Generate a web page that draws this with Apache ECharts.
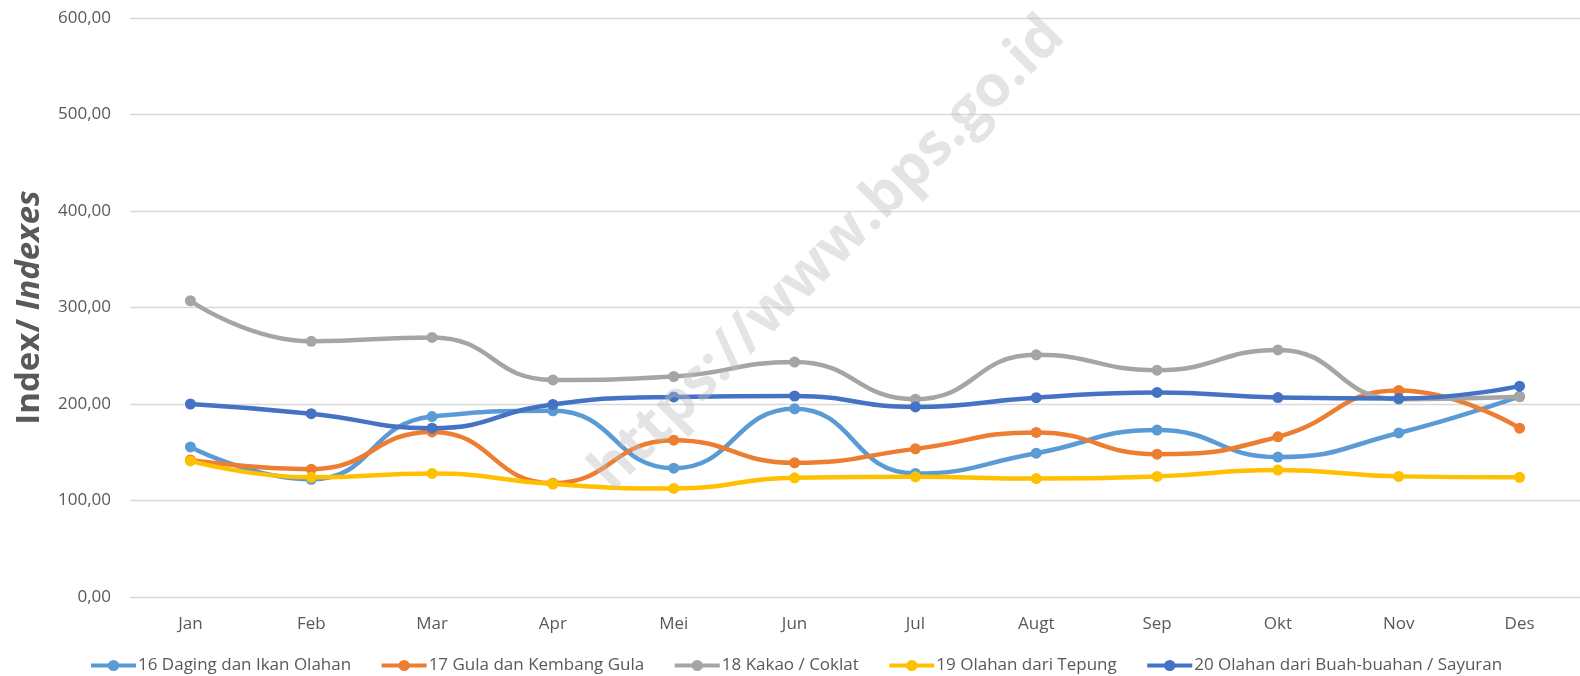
<!DOCTYPE html>
<html>
<head>
<meta charset="utf-8">
<script src="https://cdn.jsdelivr.net/npm/echarts@6/dist/echarts.min.js"></script>
<style>html,body{margin:0;padding:0;background:#fff}#c{width:1580px;height:676px}</style>
</head>
<body>
<div id="c"></div>
<script>
const categories = ['Jan','Feb','Mar','Apr','Mei','Jun','Jul','Augt','Sep','Okt','Nov','Des'];
const seriesNames = ['16 Daging dan Ikan Olahan','17 Gula dan Kembang Gula','18 Kakao / Coklat','19 Olahan dari Tepung','20 Olahan dari Buah-buahan / Sayuran'];
const daging = [155.5, 122, 187, 193, 133.5, 195, 128, 149, 173, 145, 170, 208];
const gula   = [142, 132.5, 171, 118, 162.5, 139, 153.5, 170.5, 148, 166, 214, 175];
const kakao  = [307, 265, 269, 225, 228.5, 243.5, 205, 251, 235, 256, 205, 207.5];
const tepung = [141, 124, 128, 117, 112.5, 123.5, 124.5, 122.7, 125, 131.5, 125, 124];
const buah   = [200, 190, 175, 199.5, 207.3, 208.3, 197, 206.6, 212, 206.7, 205.6, 218.5];
const yTicks = {min: 0, max: 600, interval: 100};
const colors = ['#5B9BD5','#ED7D31','#A5A5A5','#FFC000','#4472C4'];
const allData = [daging, gula, kakao, tepung, buah];

const FONT = '"Open Sans", sans-serif';
const chart = echarts.init(document.getElementById('c'), null, {renderer: 'canvas'});
chart.setOption({
  animation: false,
  color: colors,
  grid: {left: 130, top: 18, width: 1453, bottom: 79, containLabel: false},
  xAxis: {
    type: 'category',
    data: categories,
    boundaryGap: true,
    axisLine: {show: false},
    axisTick: {show: false},
    axisLabel: {color: '#595959', fontSize: 17, fontFamily: FONT, margin: 19}
  },
  yAxis: {
    type: 'value',
    min: yTicks.min, max: yTicks.max, interval: yTicks.interval,
    axisLine: {show: false},
    axisTick: {show: false},
    splitLine: {lineStyle: {color: '#d9d9d9', width: 1.3}},
    axisLabel: {
      color: '#595959', fontSize: 17, fontFamily: FONT, margin: 19,
      formatter: v => v.toFixed(2).replace('.', ',')
    },
    name: '{a|Index/ }{b|Indexes}',
    nameLocation: 'middle',
    nameGap: 84,
    nameRotate: 90,
    nameTextStyle: {
      rich: {
        a: {fontSize: 33, fontWeight: 'bold', color: '#595959', fontFamily: FONT},
        b: {fontSize: 33, fontWeight: 'bold', fontStyle: 'italic', color: '#595959', fontFamily: FONT}
      }
    }
  },
  legend: {
    top: 652,
    left: 84,
    itemWidth: 45,
    itemHeight: 14,
    itemGap: 28.5,
    lineStyle: {width: 4},
    textStyle: {color: '#595959', fontSize: 17, fontFamily: FONT, padding: [0,0,0,-3]},
    data: seriesNames
  },
  graphic: [{
    type: 'text',
    x: 828, y: 254,
    rotation: Math.PI / 4,
    z: 100,
    silent: true,
    style: {
      text: 'https://www.bps.go.id',
      fill: 'rgba(190,190,190,0.42)',
      font: 'bold 58px "Open Sans", sans-serif',
      textAlign: 'center',
      textVerticalAlign: 'middle'
    }
  }],
  series: seriesNames.map((n, i) => ({
    name: n,
    type: 'line',
    data: allData[i],
    smooth: 0.5,
    symbol: 'circle',
    symbolSize: 11,
    lineStyle: {width: 4.5, color: colors[i]},
    itemStyle: {color: colors[i]},
    z: 2 + i
  }))
});
</script>
</body>
</html>
